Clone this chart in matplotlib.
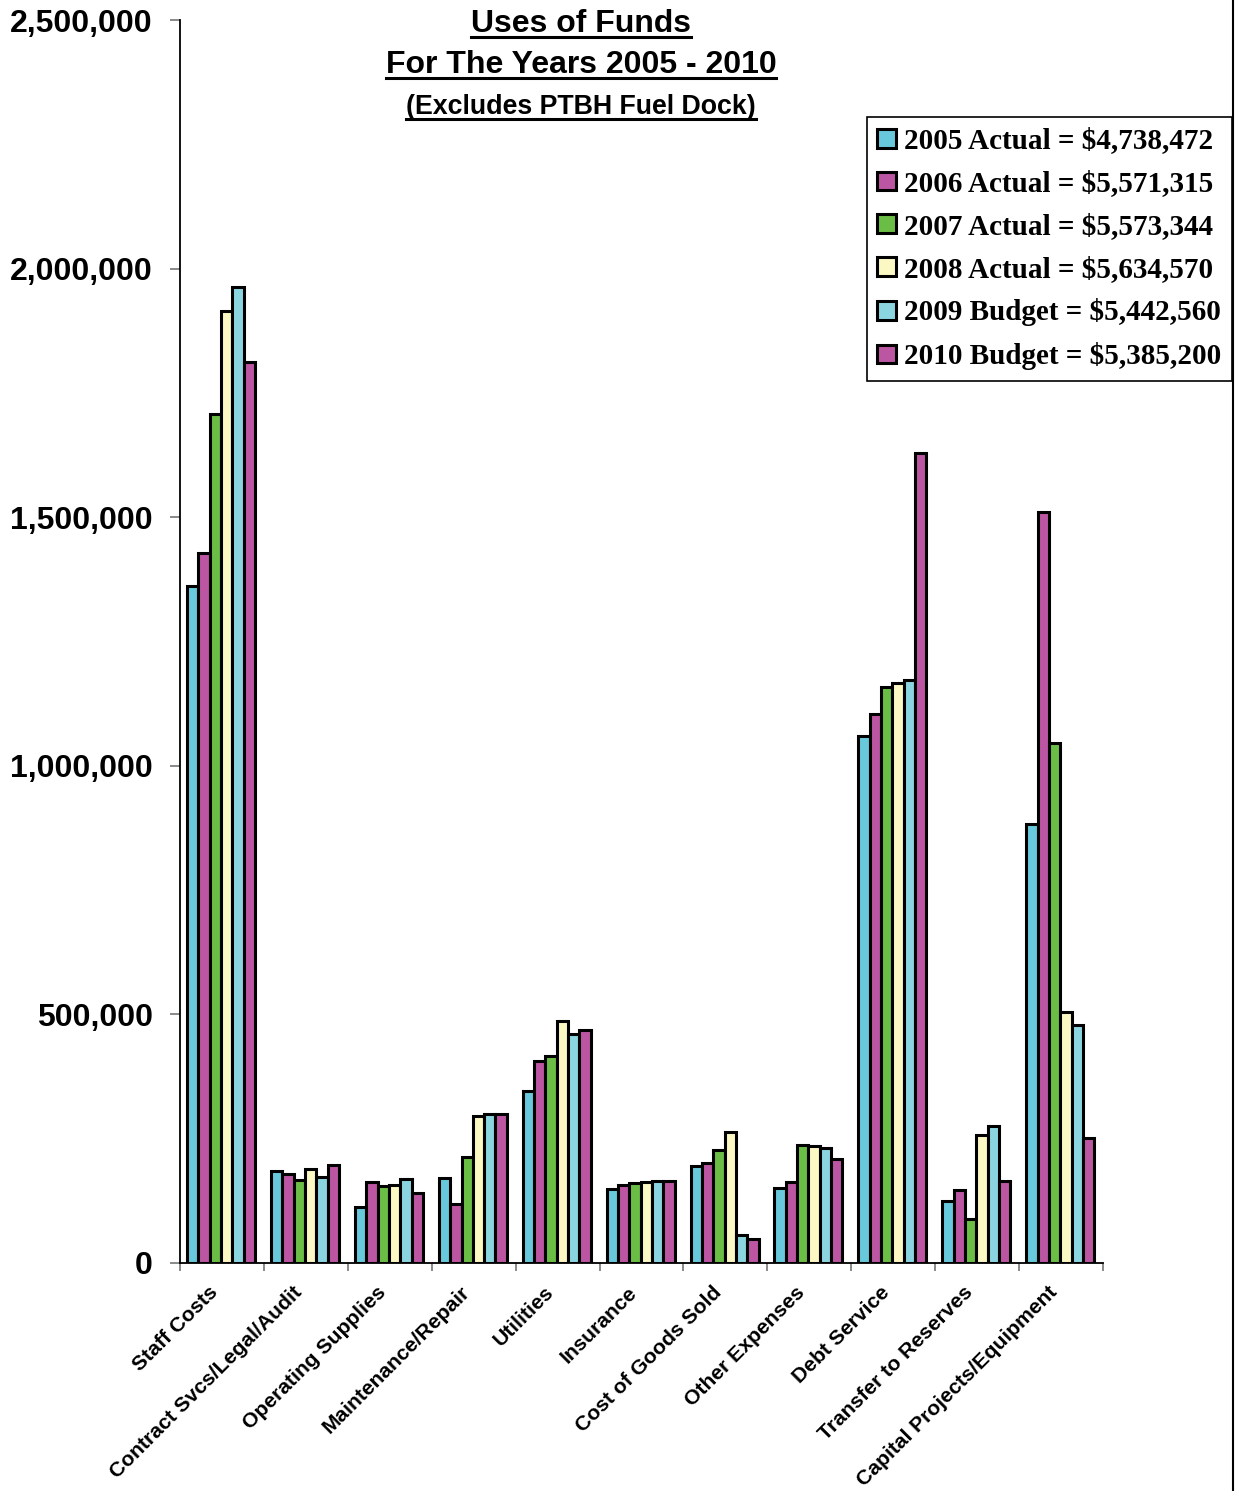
import matplotlib
matplotlib.use("Agg")
import matplotlib.pyplot as plt
from matplotlib.lines import Line2D
from matplotlib.transforms import ScaledTranslation
import numpy as np

categories = [
    "Staff Costs", "Contract Svcs/Legal/Audit", "Operating Supplies",
    "Maintenance/Repair", "Utilities", "Insurance", "Cost of Goods Sold",
    "Other Expenses", "Debt Service", "Transfer to Reserves",
    "Capital Projects/Equipment",
]

series_labels = [
    "2005 Actual = $4,738,472",
    "2006 Actual = $5,571,315",
    "2007 Actual = $5,573,344",
    "2008 Actual = $5,634,570",
    "2009 Budget = $5,442,560",
    "2010 Budget = $5,385,200",
]

actual_2005 = [1361000, 185000, 113000, 171000, 346000, 149000, 196000, 150000, 1060000, 125000, 883000]
actual_2006 = [1428000, 178000, 162000, 118000, 406000, 156000, 201000, 162000, 1104000, 147000, 1510000]
actual_2007 = [1707000, 167000, 155000, 214000, 416000, 161000, 228000, 237000, 1158000, 88000, 1045000]
actual_2008 = [1914000, 190000, 156000, 296000, 487000, 163000, 263000, 235000, 1167000, 258000, 505000]
budget_2009 = [1962000, 172000, 169000, 299000, 461000, 165000, 56000, 231000, 1173000, 276000, 479000]
budget_2010 = [1812000, 198000, 140000, 299000, 468000, 165000, 49000, 209000, 1630000, 165000, 251000]

y_ticks = [0, 500000, 1000000, 1500000, 2000000, 2500000]
y_tick_labels = ["0", "500,000", "1,000,000", "1,500,000", "2,000,000", "2,500,000"]

colors = ["#68C9DC", "#BC56A2", "#6BBE45", "#FBF8C4", "#8BD5E1", "#BC56A2"]

W, H = 1236, 1491
fig = plt.figure(figsize=(W / 100, H / 100), dpi=100)
ax = fig.add_axes([180 / W, 228 / H, (1103 - 180) / W, (1263 - 20) / H])

all_series = [actual_2005, actual_2006, actual_2007, actual_2008, budget_2009, budget_2010]
n = len(all_series)
bw = 0.135
x = np.arange(len(categories)) + 0.5
handles = []
for i, (vals, col, lab) in enumerate(zip(all_series, colors, series_labels)):
    offs = (i - (n - 1) / 2) * bw - 0.01
    b = ax.bar(x + offs, vals, width=bw, color=col, edgecolor="black",
               linewidth=2.2, label=lab, zorder=3)
    handles.append(b)

ax.set_xlim(0, len(categories))
ax.set_ylim(0, 2500000)

for s in ["top", "right"]:
    ax.spines[s].set_visible(False)
ax.spines["left"].set_linewidth(1.3)
ax.spines["bottom"].set_linewidth(1.3)

ax.set_yticks(y_ticks)
ax.set_yticklabels(y_tick_labels, fontfamily="Liberation Sans",
                   fontweight="bold", fontsize=23)
ax.tick_params(axis="y", direction="out", length=7, width=1.3,
               color="#808080", pad=12.5)

# category boundaries carry the tick marks, centres carry the labels
ax.set_xticks(np.arange(len(categories) + 1))
ax.set_xticklabels([])
ax.tick_params(axis="x", which="major", direction="out", length=6,
               width=1.3, color="#808080")
ax.set_xticks(x, minor=True)
ax.set_xticklabels(categories, minor=True, rotation=45, ha="right",
                   va="center", rotation_mode="anchor",
                   fontfamily="Liberation Sans", fontweight="bold",
                   fontsize=15.2)
ax.tick_params(axis="x", which="minor", length=0, pad=19)
shift = ScaledTranslation(-7 / 100, 0, fig.dpi_scale_trans)
for lbl in ax.get_xticklabels(minor=True):
    lbl.set_transform(lbl.get_transform() + shift)

leg = fig.legend(handles=handles, labels=series_labels,
                 loc="upper right", bbox_to_anchor=(1232 / W, 1 - 117 / H),
                 prop={"family": "Liberation Serif", "weight": "bold", "size": 21},
                 frameon=True, fancybox=False, shadow=False,
                 handlelength=0.62, handleheight=0.62, handletextpad=0.3,
                 labelspacing=0.54, borderpad=0.36, borderaxespad=0,
                 framealpha=1)
leg.get_frame().set_edgecolor("black")
leg.get_frame().set_linewidth(1.2)

# underlined three-line title
title_lines = [
    ("Uses of Funds", 31.5, 23, 37),
    ("For The Years 2005 - 2010", 73, 23, 78),
    ("(Excludes PTBH Fuel Dock)", 114, 19.3, 119),
]
texts = []
for txt, base_px, size, ul_px in title_lines:
    t = fig.text(581 / W, 1 - base_px / H, txt, ha="center", va="baseline",
                 fontfamily="Liberation Sans", fontweight="bold", fontsize=size)
    texts.append((t, ul_px))

fig.canvas.draw()
renderer = fig.canvas.get_renderer()
for t, ul_px in texts:
    bb = t.get_window_extent(renderer)
    fig.add_artist(Line2D([bb.x0 / W, bb.x1 / W], [1 - ul_px / H, 1 - ul_px / H],
                          transform=fig.transFigure, color="black", linewidth=2.2))

# right-hand border line
fig.add_artist(Line2D([1233 / W, 1233 / W], [0, 1], transform=fig.transFigure,
                      color="black", linewidth=1.5))

fig.savefig("out.png", dpi=100)
